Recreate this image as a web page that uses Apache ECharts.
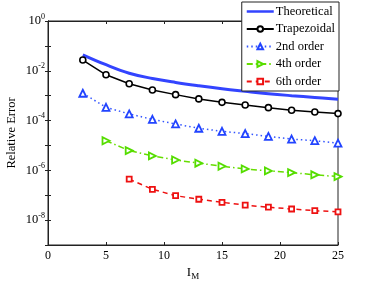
<!DOCTYPE html>
<html><head><meta charset="utf-8">
<script src="https://cdn.jsdelivr.net/npm/echarts@6/dist/echarts.min.js"></script>
<style>html,body{margin:0;padding:0;background:#fff}#c{width:374px;height:281px}</style>
</head><body><div id="c"></div>
<script>
const xs = [3,5,7,9,11,13,15,17,19,21,23,25];
const theoretical = [4.4e-2,1.75e-2,8.0e-3,4.9e-3,3.4e-3,2.5e-3,1.9e-3,1.5e-3,1.2e-3,1.0e-3,8.5e-4,7.2e-4];
const trapezoidal = [2.7e-2,6.9e-3,3.0e-3,1.7e-3,1.1e-3,7.4e-4,5.4e-4,4.2e-4,3.3e-4,2.6e-4,2.2e-4,1.9e-4];
const order2 = [1.25e-3,3.4e-4,1.85e-4,1.12e-4,7.3e-5,4.9e-5,3.7e-5,3.0e-5,2.3e-5,1.8e-5,1.55e-5,1.23e-5];
const order4X = [5,7,9,11,13,15,17,19,21,23,25];
const order4 = [1.55e-5,6.2e-6,3.8e-6,2.6e-6,1.94e-6,1.46e-6,1.14e-6,9.5e-7,8.1e-7,6.6e-7,5.6e-7];
const order6X = [7,9,11,13,15,17,19,21,23,25];
const order6 = [4.4e-7,1.73e-7,9.6e-8,6.9e-8,5.2e-8,4.0e-8,3.3e-8,2.8e-8,2.4e-8,2.14e-8];
const xTicks = [0,5,10,15,20,25];

const pair = (x, y) => x.map((v, i) => [v, y[i]]);
const FONT = 'Liberation Serif';
const chart = echarts.init(document.getElementById('c'));
const hidden = {show:false};
chart.setOption({
  animation: false,
  textStyle: {fontFamily: FONT},
  grid: {left: 48, right: 36, top: 21, bottom: 36, show: true, borderColor: '#222', borderWidth: 1,
         containLabel: false, outerBoundsMode: 'none'},
  legend: {
    right: 35, top: 2, orient: 'vertical', backgroundColor: '#fff',
    borderColor: '#222', borderWidth: 1, borderRadius: 0, padding: [3, 4, 3, 4],
    itemWidth: 27, itemHeight: 7, itemGap: 4.5,
    textStyle: {fontFamily: FONT, fontSize: 12.5, color: '#000', padding: [0,0,0,-3]},
    data: [{name:'Theoretical', icon: 'path://M0,0L0.01,0M0,2.2L27,2.2L27,4.8L0,4.8ZM0,7L0.01,7',
            itemStyle: {color: '#3344ff'}},
           'Trapezoidal','2nd order','4th order','6th order']
  },
  xAxis: [{
    type: 'value', min: 0, max: 25, interval: 5,
    axisLine: {lineStyle: {color: '#222'}},
    axisTick: {inside: true, length: 3, lineStyle: {color: '#222'}},
    splitLine: hidden,
    axisLabel: {fontFamily: FONT, fontSize: 12, color: '#000', margin: 5,
      formatter: v => xTicks.includes(v) ? String(v) : ''},
    name: '{a|I}{b|M}', nameLocation: 'middle', nameGap: 19, nameMoveOverlap: false,
    nameTextStyle: {rich: {a: {fontFamily: FONT, fontSize: 13, color:'#000'},
      b: {fontFamily: FONT, fontSize: 9, color:'#000', padding: [8,0,0,0]}}}
  },{
    type: 'value', min: 0, max: 25, interval: 5, position: 'top',
    axisLine: {lineStyle: {color: '#222'}},
    axisTick: {inside: true, length: 3, lineStyle: {color: '#222'}},
    axisLabel: hidden, splitLine: hidden
  }],
  yAxis: [{
    type: 'log', logBase: 10, min: 1e-9, max: 1,
    axisLine: {show: true, lineStyle: {color: '#222'}},
    axisTick: {show: true, inside: true, length: 3, lineStyle: {color: '#222'}},
    splitLine: hidden, minorTick: hidden,
    axisLabel: {fontFamily: FONT, fontSize: 12, color: '#000', margin: 3,
      formatter: v => {
        const e = Math.round(Math.log10(v));
        if (e % 2 !== 0 || e < -8) return '';
        return '{b|10}{s|' + (e === 0 ? '0' : '-' + (-e)) + '}';
      },
      rich: {b: {fontFamily: FONT, fontSize: 12.5, color:'#000'},
             s: {fontFamily: FONT, fontSize: 8, color:'#000', padding: [0,0,9,0]}}
    },
    name: 'Relative Error', nameLocation: 'middle', nameGap: 30, nameMoveOverlap: false,
    nameTextStyle: {fontFamily: FONT, fontSize: 12.5, color: '#000'}
  },{
    type: 'log', logBase: 10, min: 1e-9, max: 1, position: 'right',
    axisLine: {show: true, lineStyle: {color: '#222'}},
    axisTick: {show: true, inside: true, length: 3, lineStyle: {color: '#222'}},
    axisLabel: hidden, splitLine: hidden
  }],
  series: [
    {name: 'Theoretical', type: 'line', data: pair(xs, theoretical), smooth: 0.4,
     symbol: 'none', lineStyle: {color: '#3344ff', width: 3}, itemStyle: {color: '#3344ff'}},
    {name: 'Trapezoidal', type: 'line', data: pair(xs, trapezoidal),
     symbol: 'circle', symbolSize: 6, lineStyle: {color: '#000', width: 1.5},
     itemStyle: {color: '#fff', borderColor: '#000', borderWidth: 1.6}},
    {name: '2nd order', type: 'line', data: pair(xs, order2),
     symbol: 'triangle', symbolSize: 7, lineStyle: {color: '#3355ff', width: 1.5, type: [1.5, 3]},
     itemStyle: {color: '#fff', borderColor: '#2244ff', borderWidth: 1.8}},
    {name: '4th order', type: 'line', data: pair(order4X, order4),
     symbol: 'triangle', symbolRotate: -90, symbolSize: 7,
     lineStyle: {color: '#66dd00', width: 1.5, type: [6, 3, 1.5, 3]},
     itemStyle: {color: '#fff', borderColor: '#55dd00', borderWidth: 1.8}},
    {name: '6th order', type: 'line', data: pair(order6X, order6),
     symbol: 'rect', symbolSize: 5, lineStyle: {color: '#ee1111', width: 1.5, type: [5, 4]},
     itemStyle: {color: '#fff', borderColor: '#ee1111', borderWidth: 1.8}}
  ]
});
</script></body></html>
